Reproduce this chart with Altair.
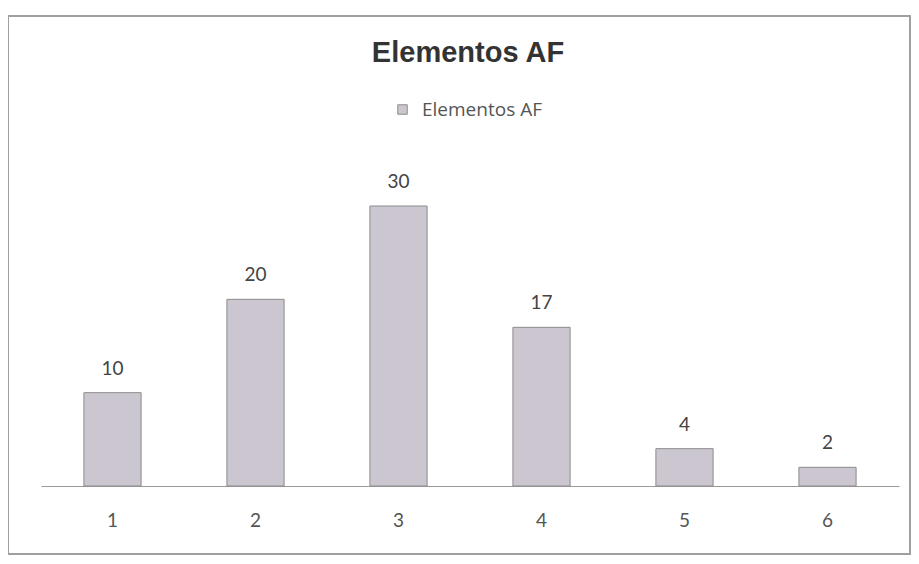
import altair as alt
import pandas as pd

chart_title = "Elementos AF"
categories = ["1", "2", "3", "4", "5", "6"]
values = [10, 20, 30, 17, 4, 2]
series = ["Elementos AF"] * 6

df = pd.DataFrame({"cat": categories, "val": values, "serie": series})

x = alt.X("cat:N", sort=categories, title=None,
          scale=alt.Scale(paddingInner=0.6, paddingOuter=0.3),
          axis=alt.Axis(labelAngle=0, ticks=False, domain=True, domainColor="#9a9a9a",
                        labelFont="Lato", labelFontSize=19, labelColor="#555555",
                        labelPadding=25, grid=False))
y = alt.Y("val:Q", scale=alt.Scale(domain=[0, 36], nice=False), axis=None)

bars = alt.Chart(df).mark_bar(stroke="#8c8c8c", strokeWidth=1).encode(
    x=x, y=y,
    color=alt.Color("serie:N", scale=alt.Scale(range=["#cbc6cf"]), title=None,
                    legend=alt.Legend(orient="none", legendX=352, legendY=-50,
                                      symbolType="square", symbolSize=90,
                                      symbolStrokeColor="#8c8c8c", symbolStrokeWidth=1,
                                      labelFont="Open Sans", labelFontSize=19,
                                      labelColor="#555555", labelOffset=10))
)

labels = alt.Chart(df).mark_text(dy=-24, font="Lato", fontSize=19, color="#444444").encode(
    x=alt.X("cat:N", sort=categories), y="val:Q", text="val:Q"
)

frame = alt.Chart(df).mark_rect(fill=None, stroke="#a0a0a0", strokeWidth=1.5).encode(
    x=alt.value(-33), x2=alt.value(869), y=alt.value(-134), y2=alt.value(404)
)

title = alt.Chart(pd.DataFrame({"t": [chart_title]})).mark_text(
    font="Liberation Sans", fontSize=29, fontWeight="bold", color="#333333",
    align="center", baseline="alphabetic"
).encode(text="t:N", x=alt.value(427), y=alt.value(-88))

chart = alt.layer(frame, bars, labels, title).properties(
    width=858, height=336,
    autosize=alt.AutoSizeParams(type="none"),
    padding={"left": 33, "top": 142, "right": 12, "bottom": 70},
).configure_view(stroke=None)

chart.save("out.html", embed_options={"renderer": "svg", "actions": False})
